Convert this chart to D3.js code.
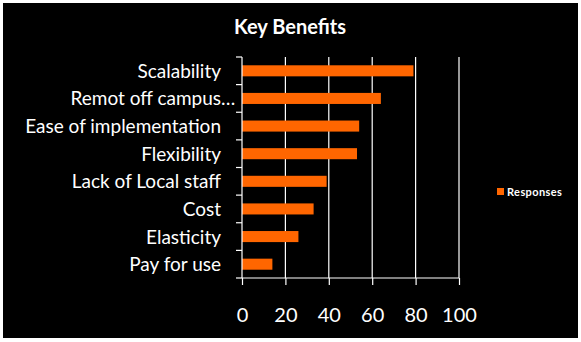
<!DOCTYPE html>
<html>
<head>
<meta charset="utf-8">
<script src="https://cdn.jsdelivr.net/npm/d3@7"></script>
<style>
  html, body { margin: 0; padding: 0; background: #fff; }
  svg { display: block; }
  text { font-family: Lato, "Open Sans", "Noto Sans", sans-serif; fill: #fff; }
</style>
</head>
<body>
<svg id="chart" width="581" height="342"></svg>
<script>
// Survey responses per key benefit
const categories = [
  "Scalability",
  "Remot off campus…",
  "Ease of implementation",
  "Flexibility",
  "Lack of Local staff",
  "Cost",
  "Elasticity",
  "Pay for use"
];
const responses = [79, 64, 54, 53, 39, 33, 26, 14];
const xTicks = [0, 20, 40, 60, 80, 100];
const seriesName = "Responses";
const title = "Key Benefits";

const svg = d3.select("#chart");
const W = 581, H = 342;
const plot = { left: 242, right: 459, top: 57, bottom: 278 };

// black panel inside a thin white frame
svg.append("rect").attr("x", 0).attr("y", 0).attr("width", W).attr("height", H).attr("fill", "#fff");
svg.append("rect").attr("x", 3).attr("y", 3).attr("width", W - 6).attr("height", H - 7).attr("fill", "#000");

const x = d3.scaleLinear().domain([0, 100]).range([plot.left, plot.right]);
const y = d3.scaleBand().domain(categories).range([plot.top, plot.bottom]).padding(0);

// vertical gridlines
svg.append("g").selectAll("line").data(xTicks.filter(d => d > 0)).join("line")
  .attr("x1", d => x(d)).attr("x2", d => x(d))
  .attr("y1", plot.top).attr("y2", plot.bottom)
  .attr("stroke", "#fff").attr("stroke-width", 1.2);

// bars
const barFrac = 0.4;
svg.append("g").selectAll("rect").data(categories).join("rect")
  .attr("x", x(0))
  .attr("y", (d) => y(d) + y.bandwidth() * (1 - barFrac) / 2)
  .attr("width", (d, i) => x(responses[i]) - x(0))
  .attr("height", y.bandwidth() * barFrac)
  .attr("fill", "#ff6600");

// x axis
const xAxis = svg.append("g")
  .attr("transform", `translate(0,${plot.bottom})`)
  .call(d3.axisBottom(x).tickValues(xTicks).tickSize(7).tickPadding(18).tickFormat(d3.format("d")));
xAxis.select(".domain").attr("stroke", "#fff").attr("stroke-width", 1.2).attr("d", `M${plot.left},0H${plot.right}`);
xAxis.selectAll(".tick line").attr("stroke", "#fff").attr("stroke-width", 1.2);
xAxis.selectAll(".tick text").attr("fill", "#fff").style("font-size", "20px").attr("dy", "0.95em");

// y axis: line and tick marks on the category boundaries
const yAxis = svg.append("g");
yAxis.append("line")
  .attr("x1", plot.left).attr("x2", plot.left)
  .attr("y1", plot.top).attr("y2", plot.bottom)
  .attr("stroke", "#fff").attr("stroke-width", 1.2);
const boundaries = categories.map(c => y(c)).concat([plot.bottom]);
yAxis.selectAll("line.tk").data(boundaries).join("line").attr("class", "tk")
  .attr("x1", plot.left - 6).attr("x2", plot.left)
  .attr("y1", d => d).attr("y2", d => d)
  .attr("stroke", "#fff").attr("stroke-width", 1.2);

// category labels, right-aligned; a trailing ellipsis hangs past the edge
const labelX = 221;
const labels = yAxis.selectAll("g.lbl").data(categories).join("g").attr("class", "lbl")
  .attr("transform", d => `translate(${labelX},${y(d) + y.bandwidth() / 2 + 7})`);
labels.append("text")
  .attr("text-anchor", "end")
  .style("font-size", "19px")
  .text(d => d.replace(/…$/, ""));
labels.filter(d => d.endsWith("…")).append("text")
  .attr("text-anchor", "start")
  .style("font-size", "19px")
  .text("…");

// title
svg.append("text")
  .attr("x", 290).attr("y", 34)
  .attr("text-anchor", "middle")
  .style("font-size", "20px").style("font-weight", "bold")
  .text(title);

// legend
const lg = svg.append("g").attr("transform", "translate(497,188)");
lg.append("rect").attr("width", 7).attr("height", 7).attr("fill", "#ff6600");
lg.append("text").attr("x", 10).attr("y", 7.5)
  .style("font-size", "11px").style("font-weight", "bold").style("letter-spacing", "0.4px")
  .text(seriesName);
</script>
</body>
</html>
